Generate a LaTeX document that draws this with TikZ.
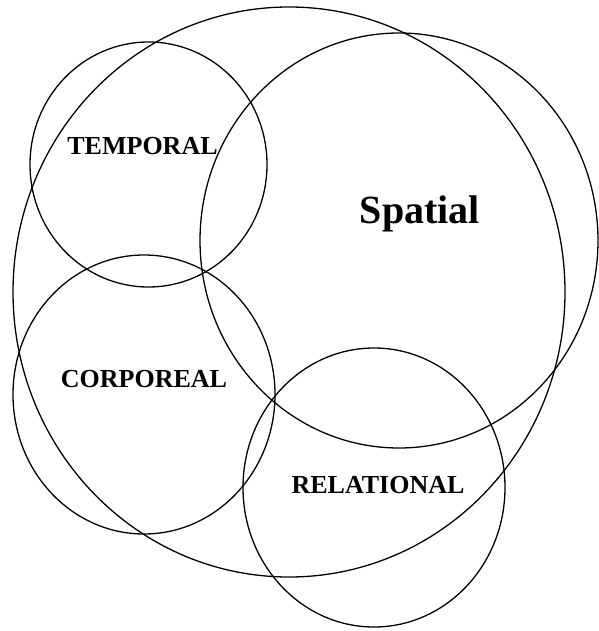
\documentclass[tikz,border=0pt]{standalone}
\usepackage{fontspec}
\setmainfont{Liberation Serif}
\begin{document}
\begin{tikzpicture}[x=1pt,y=-1pt,
  ring/.style={draw=black,line width=1.3pt},
  lab/.style={font=\bfseries\fontsize{26}{26}\selectfont,anchor=base,inner sep=0pt},
  biglab/.style={font=\bfseries\fontsize{40}{40}\selectfont,anchor=base,inner sep=0pt}]
\useasboundingbox (0,0) rectangle (598,631);
% outer
\draw[ring] (289,292) ellipse [x radius=276pt, y radius=285pt];
% spatial
\draw[ring] (399,240.5) ellipse [x radius=199pt, y radius=207.5pt];
% temporal
\draw[ring] (148.5,164.5) ellipse [x radius=118.5pt, y radius=122.5pt];
% corporeal
\draw[ring] (144,394.5) ellipse [x radius=131pt, y radius=139.5pt];
% relational
\draw[ring] (374,487.5) ellipse [x radius=131pt, y radius=139.5pt];
\node[lab] (temporal) at (142.5,155) {TEMPORAL};
\node[biglab] (spatial) at (420,223) {Spatial};
\node[lab] (corporeal) at (144,387) {CORPOREAL};
\node[lab] (relational) at (378,493) {RELATIONAL};
\end{tikzpicture}
\end{document}
